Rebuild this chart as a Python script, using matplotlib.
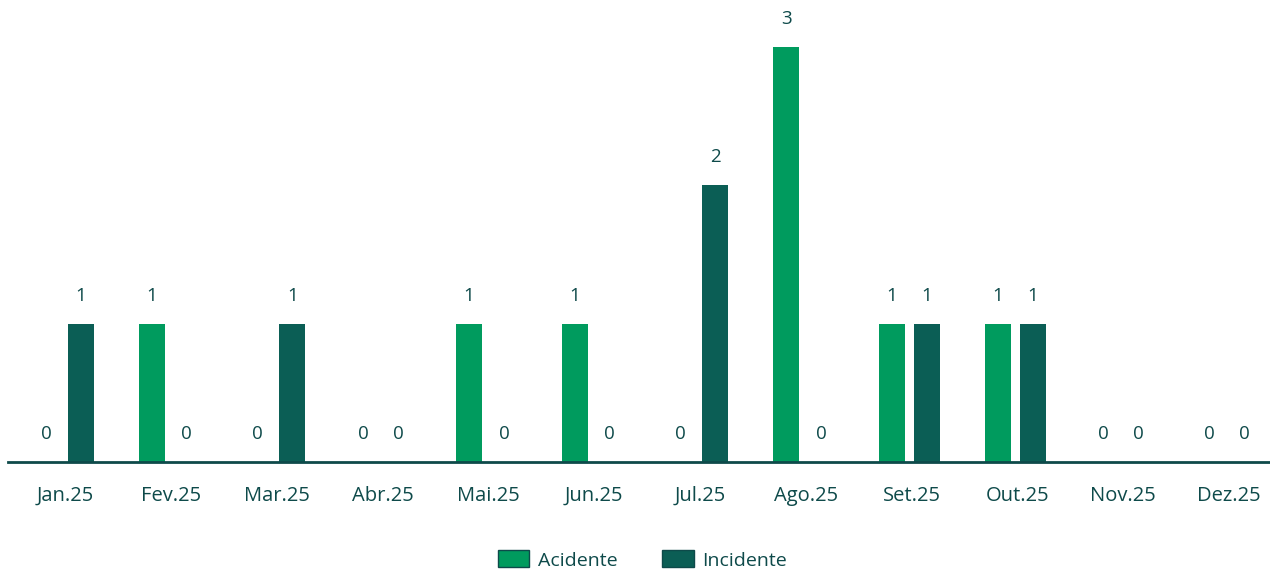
import matplotlib
matplotlib.use("Agg")
import matplotlib.pyplot as plt
import numpy as np

months = ["Jan.25", "Fev.25", "Mar.25", "Abr.25", "Mai.25", "Jun.25",
          "Jul.25", "Ago.25", "Set.25", "Out.25", "Nov.25", "Dez.25"]
acidente = [0, 1, 0, 0, 1, 1, 0, 3, 1, 1, 0, 0]
incidente = [1, 0, 1, 0, 0, 0, 2, 0, 1, 1, 0, 0]

GREEN = "#009B5E"
DARK = "#0B5E55"
TEXT = "#0E4A4A"

plt.rcParams["font.family"] = ["Open Sans", "DejaVu Sans"]

fig = plt.figure(figsize=(12.7, 5.71), dpi=100)
ax = fig.add_axes([8 / 1270, 109 / 571, 1 - 8 / 1270, 462 / 571])

x = np.arange(len(months))
w = 0.246
off = 0.165
b1 = ax.bar(x - off, acidente, w, color=GREEN, label="Acidente")
b2 = ax.bar(x + off, incidente, w, color=DARK, label="Incidente")

# value labels above each bar (zeros included)
for bars, vals in ((b1, acidente), (b2, incidente)):
    for r, v in zip(bars, vals):
        ax.annotate(str(v), (r.get_x() + r.get_width() / 2, v),
                    xytext=(0, 20), textcoords="offset points",
                    ha="center", va="center", fontsize=13.5, color=TEXT)

ax.set_xlim(-0.525, 11.41)
ax.set_ylim(0, 3.336)
ax.set_xticks(x + 0.02)
ax.set_xticklabels(months, fontsize=14.5, color=TEXT)
ax.tick_params(axis="x", length=0, pad=17)
ax.set_yticks([])
for s in ("top", "right", "left"):
    ax.spines[s].set_visible(False)
ax.spines["bottom"].set_color(TEXT)
ax.spines["bottom"].set_linewidth(2)

leg = fig.legend(handles=[b1, b2], loc="center", bbox_to_anchor=(0.506, 1 - 560 / 571),
                 ncol=2, frameon=False, fontsize=14, handlelength=1.6,
                 handleheight=0.95, columnspacing=2.3, handletextpad=0.45)
for t in leg.get_texts():
    t.set_color(TEXT)
for p in leg.get_patches():
    p.set_edgecolor(TEXT)
    p.set_linewidth(1)

fig.savefig("out.png", dpi=100)
